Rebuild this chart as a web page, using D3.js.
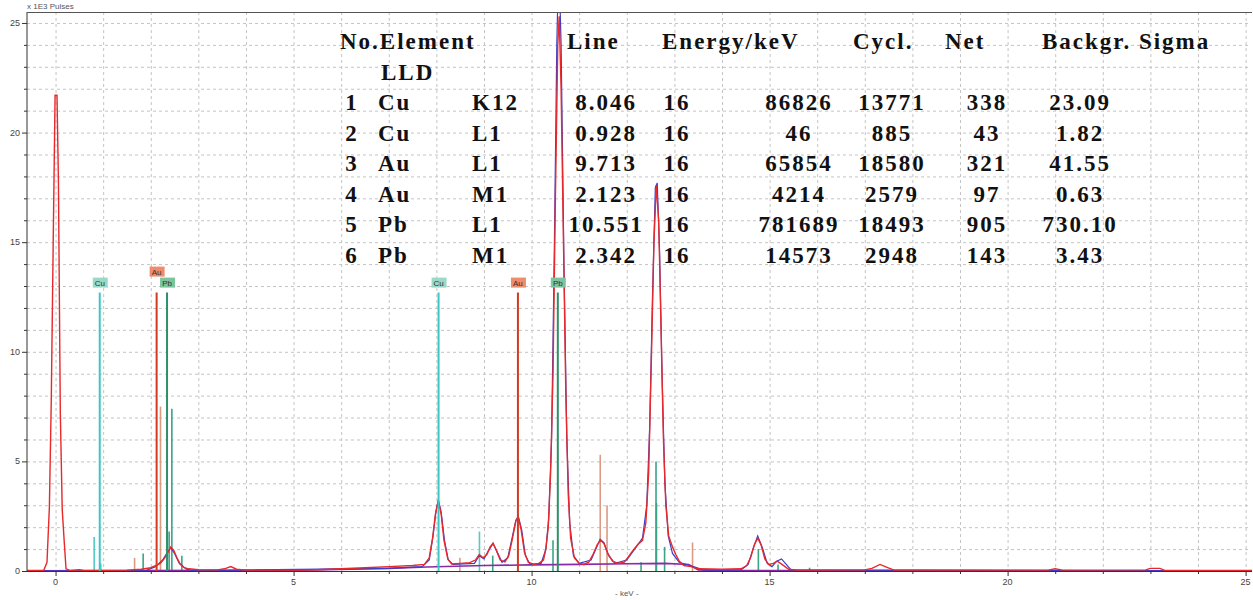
<!DOCTYPE html>
<html>

<head>
    <meta charset="UTF-8" />
    <title>EDX spectrum</title>
    <style>
        body {
            margin: 0;
            padding: 0;
            background: #fff;
        }

        svg {
            display: block;
            font-family: 'Liberation Sans', Arial, sans-serif;
        }

        .tbl text {
            font-family: 'Liberation Serif', 'Times New Roman', serif;
            font-weight: bold;
            font-size: 23px;
            letter-spacing: 2px;
            fill: #111;
        }
    </style>
</head>

<body>
    <div class="container"></div>

    <script src="https://cdnjs.cloudflare.com/ajax/libs/d3/7.8.5/d3.min.js"></script>
    <script>
        // measured spectrum (keV, x1E3 pulses)
        const measured = [
            [-0.6, 0.02], [-0.25, 0.02], [-0.18, 0.4], [-0.13, 2.9], [-0.09, 7.8], [-0.05, 14.9], [-0.01, 21.7],
            [0.03, 21.7], [0.06, 17.8], [0.1, 7.2], [0.14, 2.8], [0.18, 1.4], [0.22, 0.1], [0.3, 0.03], [0.5, 0.06],
            [0.6, 0.03], [1.0, 0.03], [1.5, 0.04], [1.8, 0.08], [2.0, 0.15], [2.1, 0.25], [2.2, 0.35], [2.28, 0.55],
            [2.35, 0.8], [2.42, 1.1], [2.48, 0.95], [2.55, 0.6], [2.62, 0.3], [2.7, 0.15], [2.8, 0.1], [3.0, 0.06],
            [3.4, 0.05], [3.55, 0.1], [3.68, 0.2], [3.8, 0.08], [4.0, 0.04], [5.0, 0.04], [5.5, 0.06], [6.0, 0.1],
            [6.5, 0.15], [7.0, 0.2], [7.5, 0.25], [7.75, 0.3], [7.85, 0.6], [7.92, 1.5], [7.98, 2.6], [8.04, 3.2],
            [8.1, 2.6], [8.16, 1.4], [8.24, 0.55], [8.32, 0.32], [8.5, 0.35], [8.7, 0.38], [8.82, 0.5], [8.9, 0.75],
            [8.98, 0.6], [9.06, 0.75], [9.13, 1.1], [9.19, 1.27], [9.26, 0.95], [9.34, 0.5], [9.44, 0.42], [9.52, 0.7],
            [9.6, 1.5], [9.67, 2.3], [9.72, 2.45], [9.78, 1.9], [9.85, 0.85], [9.93, 0.4], [10.05, 0.3], [10.15, 0.35],
            [10.25, 0.5], [10.3, 1.0], [10.35, 2.0], [10.4, 4.5], [10.45, 9], [10.5, 17], [10.55, 24], [10.58, 25.3],
            [10.62, 22], [10.67, 15], [10.72, 8], [10.77, 3.5], [10.82, 1.5], [10.9, 0.6], [11.0, 0.35], [11.1, 0.3],
            [11.2, 0.4], [11.3, 0.8], [11.38, 1.2], [11.45, 1.4], [11.52, 1.25], [11.6, 0.8], [11.7, 0.45], [11.82, 0.35],
            [11.95, 0.4], [12.05, 0.7], [12.15, 1.0], [12.25, 1.25], [12.33, 1.4], [12.4, 2.2], [12.46, 4.5], [12.52, 10],
            [12.57, 15], [12.62, 17.6], [12.67, 16], [12.72, 11], [12.77, 6], [12.82, 3], [12.88, 1.6], [12.96, 1.1],
            [13.03, 0.75], [13.1, 0.45], [13.2, 0.25], [13.35, 0.2], [13.5, 0.1], [14.0, 0.08], [14.4, 0.1], [14.52, 0.25],
            [14.6, 0.6], [14.68, 1.2], [14.75, 1.5], [14.82, 1.2], [14.9, 0.55], [14.98, 0.3], [15.08, 0.35], [15.16, 0.45],
            [15.26, 0.3], [15.4, 0.08], [15.6, 0.04], [17.0, 0.05], [17.15, 0.12], [17.32, 0.3], [17.48, 0.15], [17.62, 0.04],
            [20.85, 0.04], [21.0, 0.1], [21.15, 0.04], [22.9, 0.05], [23.0, 0.12], [23.2, 0.12], [23.3, 0.03], [25.3, 0.02]
        ];

        // fitted spectrum
        const fitted = [
            [-0.6, 0.0], [1.9, 0.02], [2.1, 0.2], [2.25, 0.5], [2.35, 0.85], [2.42, 1.05], [2.5, 0.8], [2.6, 0.35],
            [2.75, 0.08], [2.9, 0.02], [7.0, 0.12], [7.7, 0.2], [7.85, 0.5], [7.93, 1.6], [7.99, 2.7], [8.04, 3.25],
            [8.1, 2.7], [8.17, 1.4], [8.25, 0.5], [8.35, 0.3], [8.8, 0.35], [8.9, 0.7], [9.0, 0.55], [9.1, 0.95],
            [9.19, 1.25], [9.28, 0.85], [9.38, 0.4], [9.5, 0.6], [9.6, 1.6], [9.67, 2.3], [9.72, 2.5], [9.79, 1.9],
            [9.87, 0.7], [9.97, 0.3], [10.2, 0.35], [10.3, 1.0], [10.36, 2.4], [10.42, 6], [10.48, 15], [10.53, 24],
            [10.57, 28], [10.62, 24], [10.68, 14], [10.74, 6], [10.8, 2.2], [10.88, 0.7], [11.0, 0.35], [11.25, 0.5],
            [11.35, 1.0], [11.44, 1.45], [11.52, 1.3], [11.62, 0.7], [11.75, 0.35], [12.0, 0.5], [12.2, 1.1],
            [12.33, 1.5], [12.42, 3], [12.48, 6.5], [12.54, 12.5], [12.6, 17.5], [12.64, 17.7], [12.69, 14.5],
            [12.74, 9], [12.8, 4], [12.87, 1.6], [12.96, 0.8], [13.1, 0.4], [13.4, 0.2], [13.6, 0.05], [14.4, 0.05],
            [14.55, 0.3], [14.65, 1.0], [14.75, 1.6], [14.85, 1.05], [14.95, 0.35], [15.05, 0.2], [15.15, 0.45],
            [15.25, 0.55], [15.35, 0.3], [15.45, 0.05], [25.3, 0.0]
        ];

        // background
        const background = [
            [-0.6, 0.01], [5.0, 0.03], [7.0, 0.12], [7.8, 0.18], [9.0, 0.25], [10.0, 0.28], [11.0, 0.3],
            [12.0, 0.33], [12.8, 0.35], [13.3, 0.3], [13.5, 0.05], [14.0, 0.02], [25.3, 0.01]
        ];

        // labelled element lines [element, keV, height]
        const mainLines = [
            ['Cu', 0.928, 12.7], ['Au', 2.123, 12.7], ['Pb', 2.342, 12.7],
            ['Cu', 8.046, 12.7], ['Au', 9.713, 12.7], ['Pb', 10.551, 12.7]
        ];

        // secondary element lines [element, keV, height]
        const minorLines = [
            ['Cu', 0.811, 1.55], ['Cu', 0.95, 0.35], ['Cu', 8.905, 1.8],
            ['Au', 1.66, 0.6], ['Au', 2.204, 7.5], ['Au', 8.494, 0.6], ['Au', 11.442, 5.3], ['Au', 11.585, 3.0],
            ['Au', 13.381, 1.3],
            ['Pb', 1.84, 0.8], ['Pb', 2.386, 1.8], ['Pb', 2.443, 7.4], ['Pb', 2.653, 0.7], ['Pb', 9.184, 0.7],
            ['Pb', 10.45, 1.4], ['Pb', 12.3, 0.4], ['Pb', 12.614, 5.0], ['Pb', 12.623, 3.1], ['Pb', 12.794, 1.1],
            ['Pb', 14.764, 1.0], ['Pb', 15.178, 0.3], ['Pb', 15.84, 0.15]
        ];

        // result table
        const tblNo = ['1', '2', '3', '4', '5', '6'];
        const tblElement = ['Cu', 'Cu', 'Au', 'Au', 'Pb', 'Pb'];
        const tblLine = ['K12', 'L1', 'L1', 'M1', 'L1', 'M1'];
        const tblEnergy = ['8.046', '0.928', '9.713', '2.123', '10.551', '2.342'];
        const tblLLD = ['16', '16', '16', '16', '16', '16'];
        const tblCol6 = ['86826', '46', '65854', '4214', '781689', '14573'];
        const tblCycl = ['13771', '885', '18580', '2579', '18493', '2948'];
        const tblNet = ['338', '43', '321', '97', '905', '143'];
        const tblSigma = ['23.09', '1.82', '41.55', '0.63', '730.10', '3.43'];

        const xTicks = d3.range(0, 26, 1);
        const yTicks = d3.range(0, 26, 1);

        const W = 1253, H = 600;
        const m = { left: 27, top: 12, right: 1248, bottom: 571 };

        const x = d3.scaleLinear().domain([-0.6, 25.05]).range([m.left, m.right]);
        const y = d3.scaleLinear().domain([0, 25.5]).range([m.bottom, m.top]);

        const svg = d3.select('.container').append('svg')
            .attr('width', W)
            .attr('height', H);

        svg.append('clipPath').attr('id', 'plot')
            .append('rect')
            .attr('x', m.left).attr('y', m.top)
            .attr('width', m.right - m.left + 4).attr('height', m.bottom - m.top);

        // grid
        const grid = svg.append('g').attr('stroke', '#c4c4c4').attr('stroke-dasharray', '3,3').attr('stroke-width', 1);
        grid.selectAll('.gx').data(xTicks).join('line')
            .attr('x1', d => x(d) + 0.5).attr('x2', d => x(d) + 0.5)
            .attr('y1', m.top).attr('y2', m.bottom);
        grid.selectAll('.gy').data(yTicks.filter(d => d > 0)).join('line')
            .attr('x1', m.left).attr('x2', m.right)
            .attr('y1', d => y(d) + 0.5).attr('y2', d => y(d) + 0.5);

        const colors = { Cu: '#3cc6c4', Au: '#d23a22', Pb: '#2f8f68' };
        const minorColors = { Cu: '#52cbc4', Au: '#dc9a80', Pb: '#3aa488' };
        const boxColors = { Cu: '#9ad9c6', Au: '#ee8c6c', Pb: '#7cc49e' };

        const plot = svg.append('g').attr('clip-path', 'url(#plot)');

        // element marker lines
        plot.append('g').selectAll('line').data(minorLines).join('line')
            .attr('x1', d => x(d[1])).attr('x2', d => x(d[1]))
            .attr('y1', y(0)).attr('y2', d => y(d[2]))
            .attr('stroke', d => minorColors[d[0]])
            .attr('stroke-width', 1.6);

        const line = d3.line().x(d => x(d[0])).y(d => y(d[1]));

        plot.append('path').datum(background)
            .attr('d', line).attr('fill', 'none')
            .attr('stroke', '#8a2aa6').attr('stroke-width', 1.6);

        plot.append('path').datum(fitted)
            .attr('d', line).attr('fill', 'none')
            .attr('stroke', '#3a3ec8').attr('stroke-width', 1.2);

        plot.append('path').datum(measured)
            .attr('d', line).attr('fill', 'none')
            .attr('stroke', '#e8282a').attr('stroke-width', 1.4);

        plot.append('g').selectAll('line').data(mainLines).join('line')
            .attr('x1', d => x(d[1])).attr('x2', d => x(d[1]))
            .attr('y1', y(0)).attr('y2', d => y(d[2]))
            .attr('stroke', d => colors[d[0]])
            .attr('stroke-width', 2);

        // element labels; a label too close to the one before it moves up one row
        const lab = svg.append('g').attr('font-size', 8);
        let prevX = -100, prevLift = 0;
        mainLines.forEach((d, i) => {
            const cx = x(d[1]);
            const next = mainLines[i + 1];
            const crowded = next && x(next[1]) - cx < 16;
            const lift = crowded ? 11 : 0;
            prevX = cx;
            const g = lab.append('g').attr('transform', `translate(${cx},${y(d[2]) - 10 - lift})`);
            g.append('rect').attr('x', -7).attr('y', -5).attr('width', 15).attr('height', 10)
                .attr('fill', boxColors[d[0]]);
            g.append('text').attr('text-anchor', 'middle').attr('y', 3)
                .attr('fill', '#333').text(d[0]);
        });

        // axes
        const axes = svg.append('g').attr('stroke', '#333');
        axes.append('line').attr('x1', m.left).attr('x2', m.left).attr('y1', m.top).attr('y2', m.bottom + 0.5);
        axes.append('line').attr('x1', m.left).attr('x2', m.right + 4).attr('y1', m.bottom + 0.5).attr('y2', m.bottom + 0.5);
        axes.append('line').attr('x1', m.left).attr('x2', m.right + 4).attr('y1', m.top + 0.5).attr('y2', m.top + 0.5)
            .attr('stroke', '#555');

        axes.selectAll('.tx').data(xTicks).join('line')
            .attr('x1', d => x(d) + 0.5).attr('x2', d => x(d) + 0.5)
            .attr('y1', m.bottom).attr('y2', d => m.bottom + (d % 5 === 0 ? 5 : 3));
        axes.selectAll('.ty').data(yTicks).join('line')
            .attr('y1', d => y(d) + 0.5).attr('y2', d => y(d) + 0.5)
            .attr('x1', d => m.left - (d % 5 === 0 ? 5 : 3)).attr('x2', m.left);

        const tl = svg.append('g').attr('font-size', 9).attr('fill', '#444');
        tl.selectAll('.lx').data(xTicks.filter(d => d % 5 === 0)).join('text')
            .attr('x', d => x(d)).attr('y', m.bottom + 14)
            .attr('text-anchor', 'middle').text(d => d);
        tl.selectAll('.ly').data(yTicks.filter(d => d % 5 === 0)).join('text')
            .attr('x', m.left - 7).attr('y', d => y(d) + 3)
            .attr('text-anchor', 'end').text(d => d);

        svg.append('text').attr('x', m.left).attr('y', 9).attr('font-size', 8).attr('fill', '#555')
            .text('x 1E3 Pulses');
        svg.append('text').attr('x', x(12)).attr('y', 596).attr('font-size', 8).attr('fill', '#555')
            .attr('text-anchor', 'middle').text('- keV -');

        // result table
        const tbl = svg.append('g').attr('class', 'tbl');
        const hdr = [['No.Element', 340], ['Line', 567], ['Energy/keV', 662], ['Cycl.', 853], ['Net', 945], ['Backgr. Sigma', 1042]];
        tbl.selectAll('.h').data(hdr).join('text')
            .attr('x', d => d[1]).attr('y', 49).text(d => d[0]);
        tbl.append('text').attr('x', 381).attr('y', 80).text('LLD');

        const rowY = i => 110 + i * 30.6;
        const cols = [
            [tblNo, 352, 'middle'], [tblElement, 378, 'start'], [tblLine, 472, 'start'],
            [tblEnergy, 606, 'middle'], [tblLLD, 677, 'middle'], [tblCol6, 799, 'middle'],
            [tblCycl, 892, 'middle'], [tblNet, 987, 'middle'], [tblSigma, 1080, 'middle']
        ];
        cols.forEach(c => {
            tbl.append('g').selectAll('text').data(c[0]).join('text')
                .attr('x', c[1]).attr('y', (d, i) => rowY(i))
                .attr('text-anchor', c[2]).text(d => d);
        });
    </script>
</body>

</html>
